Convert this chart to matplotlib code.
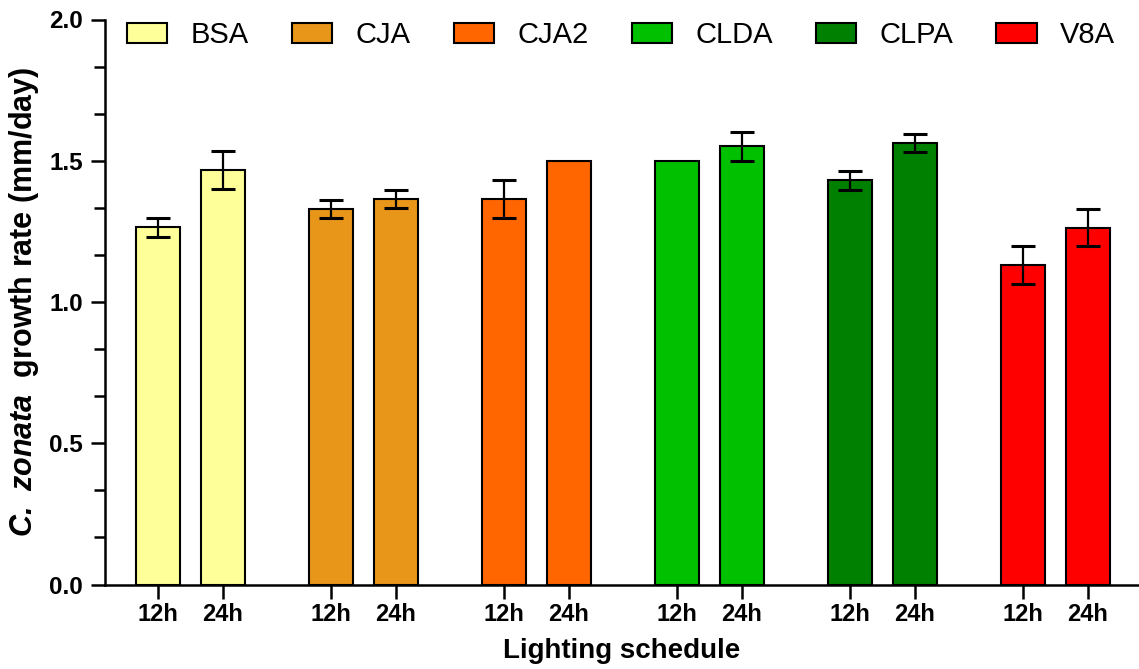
import matplotlib
matplotlib.use("Agg")
import matplotlib.pyplot as plt
import numpy as np
from matplotlib.ticker import MultipleLocator

plt.rcParams['font.family'] = ['Liberation Sans', 'DejaVu Sans']
plt.rcParams['mathtext.fontset'] = 'custom'
plt.rcParams['mathtext.bfit'] = 'Liberation Sans:italic:bold'
plt.rcParams['mathtext.rm'] = 'Liberation Sans:bold'

# data
media = ["BSA", "CJA", "CJA2", "CLDA", "CLPA", "V8A"]
schedules = ["12h", "24h"]
rate_12h = [1.264, 1.329, 1.365, 1.500, 1.431, 1.131]
rate_24h = [1.467, 1.365, 1.500, 1.551, 1.563, 1.263]
err_12h = [0.033, 0.033, 0.066, 0.0, 0.034, 0.066]
err_24h = [0.066, 0.033, 0.0, 0.051, 0.033, 0.066]
colors = ["#FFFF99", "#E8961A", "#FF6600", "#00C000", "#008000", "#FF0000"]

fig = plt.figure(figsize=(11.39, 6.69), dpi=100)
ax = fig.add_axes([105 / 1139, 1 - 584.5 / 669, 1 - 105 / 1139, 565 / 669])

off = 0.188
w = 0.254
groups = np.arange(len(media))
xt, xl = [], []
for i, name in enumerate(media):
    xs = [groups[i] - off, groups[i] + off]
    vals = [rate_12h[i], rate_24h[i]]
    errs = [err_12h[i], err_24h[i]]
    ax.bar(xs, vals, width=w, color=colors[i], edgecolor="black",
           linewidth=1.5, label=name, zorder=2)
    for x, v, e in zip(xs, vals, errs):
        if e > 0:
            ax.errorbar(x, v, yerr=e, fmt="none", ecolor="black", elinewidth=1.6,
                        capsize=8.5, capthick=2.2, zorder=3)
    xt += xs
    xl += schedules

ax.set_xticks(xt)
ax.set_xticklabels(xl, fontsize=17, fontweight="bold")
ax.set_xlim(-0.494, 5.483)
ax.set_ylim(0, 2.0)
ax.yaxis.set_major_locator(MultipleLocator(0.5))
ax.yaxis.set_minor_locator(MultipleLocator(0.5 / 3))
ax.set_yticklabels([f"{v:.1f}" for v in ax.get_yticks()], fontsize=17.5, fontweight="bold")

for s in ["top", "right"]:
    ax.spines[s].set_visible(False)
for s in ["left", "bottom"]:
    ax.spines[s].set_linewidth(1.8)
ax.tick_params(axis="both", which="major", length=10, width=1.8, pad=3)
ax.tick_params(axis="y", which="minor", length=8, width=1.8)
ax.tick_params(axis="y", pad=6)

ax.set_ylabel(r"$\mathbfit{C.\ zonata}$  growth rate (mm/day)", fontsize=22,
              fontweight="bold")
ax.yaxis.set_label_coords(-0.062, 0.5)
ax.set_xlabel("Lighting schedule", fontsize=20, fontweight="bold")
ax.xaxis.set_label_coords(0.5, -0.095)

fig.legend(loc="center left", bbox_to_anchor=(127 / 1139, 1 - 35 / 669),
           ncol=6, frameon=False, fontsize=21, handlelength=1.38,
           handleheight=0.69, handletextpad=0.8, columnspacing=1.48,
           borderpad=0, borderaxespad=0)

fig.savefig("out.png", dpi=100)
